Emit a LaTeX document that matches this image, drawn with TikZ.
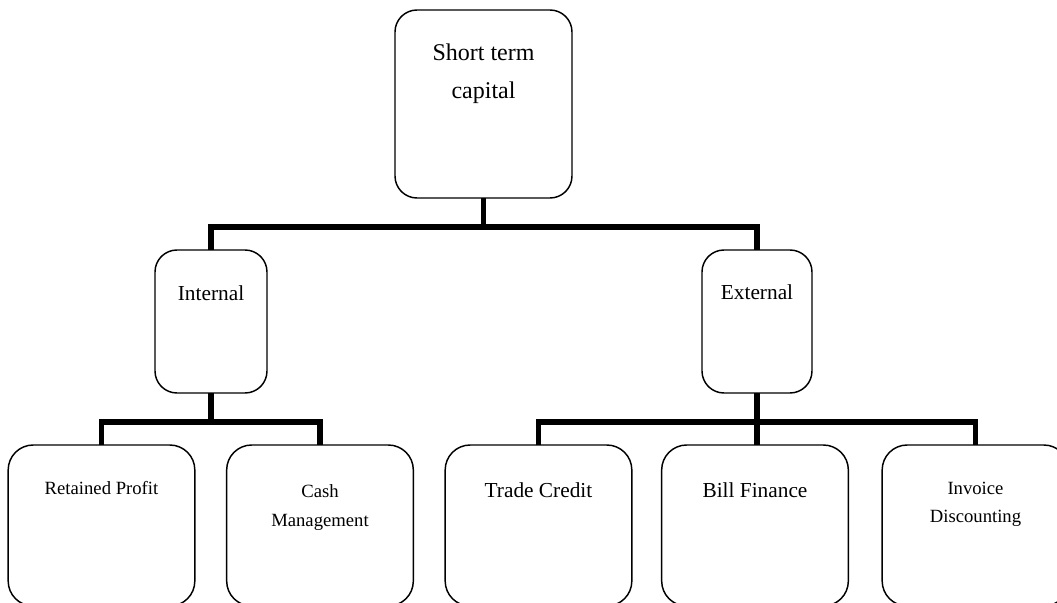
\documentclass[tikz,border=0pt]{standalone}
\usepackage{fontspec}
\setmainfont{Liberation Serif}
\begin{document}
\begin{tikzpicture}[x=0.75pt,y=-0.75pt,
  box/.style={draw, line width=1.1pt, rounded corners=16.5pt, inner sep=0pt, outer sep=0pt},
  lowbox/.style={box, rounded corners=18.75pt, minimum width=140pt, minimum height=120.75pt},
  link/.style={line width=4.3pt},
  lbl/.style={inner sep=0pt, align=center}]
\useasboundingbox (0,0) rectangle (1057,603);
% boxes
\node[box, minimum width=132.75pt, minimum height=141pt] (top) at (483.5,104) {};
\node[box, minimum width=84pt, minimum height=107.25pt] (int) at (211,321.5) {};
\node[box, minimum width=82.5pt, minimum height=107.25pt] (ext) at (757,321.5) {};
\node[lowbox] (rp) at (101.5,525.5) {};
\node[lowbox] (cm) at (320,525.5) {};
\node[lowbox] (tc) at (538.5,525.5) {};
\node[lowbox] (bf) at (755,525.5) {};
\node[lowbox] (id) at (975.5,525.5) {};
% labels
\node[lbl, font=\fontsize{18}{28.5}\selectfont] (ttop) at (483.5,74) {Short term\\capital};
\node[lbl, font=\fontsize{16}{19}\selectfont] (tint) at (211,293) {Internal};
\node[lbl, font=\fontsize{16}{19}\selectfont] (text) at (757,292) {External};
\node[lbl, font=\fontsize{14}{21.75}\selectfont] (trp) at (101.5,488) {Retained Profit};
\node[lbl, font=\fontsize{14}{21.75}\selectfont] (tcm) at (320,507.5) {Cash\\Management};
\node[lbl, font=\fontsize{16}{19}\selectfont] (ttc) at (538.5,490) {Trade Credit};
\node[lbl, font=\fontsize{16}{19}\selectfont] (tbf) at (755,490) {Bill Finance};
\node[lbl, font=\fontsize{14}{21}\selectfont] (tid) at (975.5,504) {Invoice\\Discounting};
% junctions
\coordinate (j1) at (483.5,227);
\coordinate (j2) at (211,422);
\coordinate (j3) at (757,422);
% connectors
\draw[link] (top.south) -- (j1);
\draw[link] (int.north) |- (j1) -| (ext.north);
\draw[link] (int.south) -- (j2);
\draw[link] (rp.north) |- (j2) -| (cm.north);
\draw[link] (ext.south) -- (j3) -- (j3 |- bf.north);
\draw[link] (tc.north) |- (j3) -| (id.north);
\end{tikzpicture}
\end{document}
